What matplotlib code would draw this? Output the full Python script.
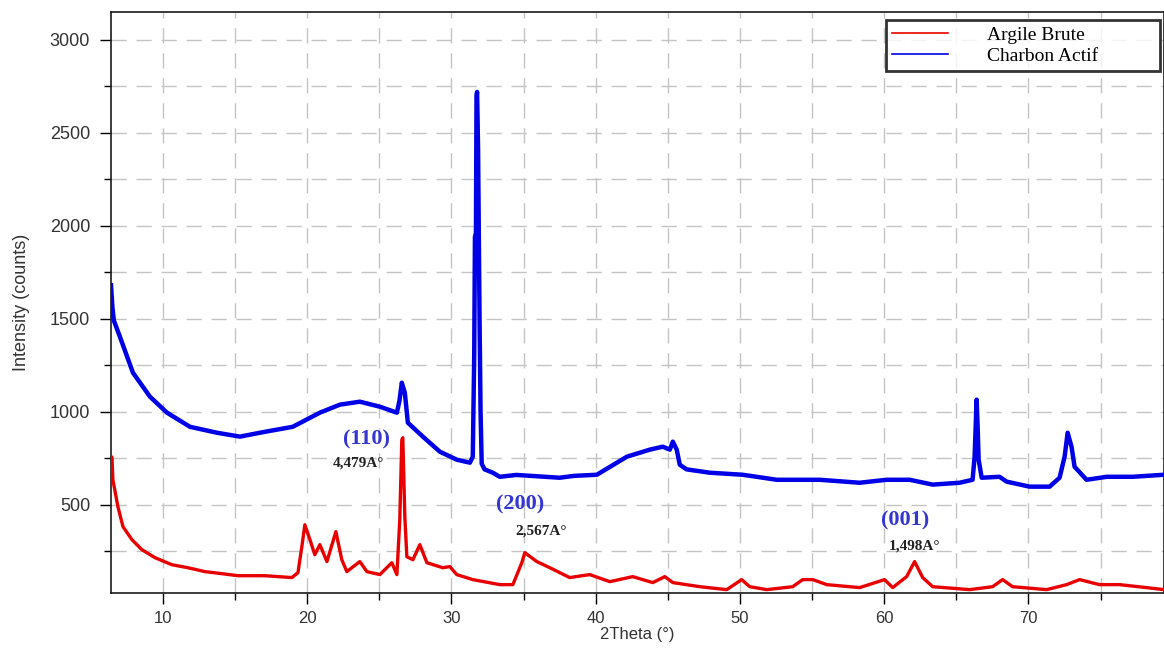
import matplotlib
matplotlib.use("Agg")
import matplotlib.pyplot as plt
from matplotlib.ticker import MultipleLocator

# Charbon Actif (blue)
charbon_x = [6.40, 6.50, 6.60, 7.02, 7.92, 9.10, 10.28, 11.87, 13.74, 15.34,
             16.72, 19.0, 20.88, 22.27, 23.65, 25.04, 26.22, 26.40, 26.56, 26.77,
             26.98, 28.02, 29.2, 30.37, 31.28, 31.48, 31.58, 31.63, 31.70, 31.74,
             31.78, 31.85, 31.95, 32.02, 32.10, 32.30, 32.87, 33.35, 34.5, 35.5,
             37.5, 38.5, 40.08, 42.16, 43.75, 44.65, 45.14, 45.35, 45.62, 45.83,
             46.3, 47.91, 50.19, 52.55, 55.53, 58.3, 60.17, 61.77, 63.36, 65.23,
             66.13, 66.27, 66.41, 66.48, 66.55, 66.76, 68.0, 68.49, 70.08, 71.47,
             72.16, 72.51, 72.72, 72.99, 73.2, 74.03, 75.42, 77.22, 79.4]
charbon_y = [1680, 1560, 1490, 1403, 1210, 1081, 995, 919, 887, 866,
             887, 919, 995, 1038, 1054, 1027, 995, 1060, 1156, 1102,
             941, 866, 785, 742, 726, 758, 1300, 1940, 1960, 2700,
             2720, 2400, 1500, 1000, 720, 690, 672, 650, 660, 655,
             645, 655, 661, 758, 796, 812, 796, 839, 796, 715,
             690, 672, 661, 634, 634, 618, 634, 634, 608, 618,
             634, 758, 1065, 919, 742, 645, 650, 624, 597, 597,
             645, 758, 887, 812, 704, 634, 650, 650, 661]

# Argile Brute (red)
argile_x = [6.40, 6.47, 6.53, 6.88, 7.23, 7.85, 8.54, 9.45, 10.62, 11.73,
            12.91, 14.09, 15.2, 17.07, 18.94, 19.36, 19.63, 19.84, 20.19, 20.53,
            20.88, 21.37, 21.99, 22.4, 22.75, 23.65, 24.14, 25.04, 25.87, 26.22,
            26.42, 26.56, 26.63, 26.77, 26.91, 27.33, 27.81, 28.3, 29.4, 29.89,
            30.37, 31.48, 33.35, 34.26, 34.88, 35.09, 35.92, 36.82, 38.2, 39.59,
            40.98, 42.57, 43.96, 44.79, 45.35, 47.21, 49.09, 50.12, 50.68, 51.86,
            53.66, 54.35, 55.05, 56.02, 58.3, 60.03, 60.59, 61.56, 62.11, 62.67,
            63.36, 65.93, 67.52, 68.21, 68.9, 71.26, 72.65, 73.55, 74.93, 76.32,
            78.19, 79.4]
argile_y = [760, 753, 634, 489, 382, 312, 258, 215, 177, 161,
            140, 129, 118, 118, 108, 134, 274, 392, 312, 231,
            285, 194, 355, 204, 140, 194, 140, 124, 188, 124,
            419, 849, 860, 435, 220, 204, 285, 188, 161, 167,
            124, 97, 70, 70, 188, 242, 194, 161, 108, 124,
            86, 113, 81, 113, 81, 59, 43, 97, 59, 43,
            59, 97, 97, 70, 54, 97, 54, 113, 194, 108,
            59, 43, 59, 97, 59, 43, 70, 97, 70, 70,
            54, 43]

# peak labels: hkl text, d-spacing text and where each sits
peak_hkl = ["(110)", "(200)", "(001)"]
peak_d = ["4,479A°", "2,567A°", "1,498A°"]
peak_hkl_pos = [(24.14, 849), (34.74, 500), (61.42, 414)]
peak_d_pos = [(23.52, 726), (36.2, 360), (62.11, 280)]

fig = plt.figure(figsize=(11.64, 6.48), dpi=100)
ax = fig.add_axes([111 / 1164, 1 - 593 / 648, 1 - 111 / 1164, (593 - 12) / 648])

ax.plot(argile_x, argile_y, color="#e80000", lw=2.4, label="Argile Brute", zorder=3)
ax.plot(charbon_x, charbon_y, color="#0000e6", lw=3.2, label="Charbon Actif", zorder=3)

ax.set_xlim(6.4, 79.4)
ax.set_ylim(25, 3150)
ax.xaxis.set_major_locator(MultipleLocator(10))
ax.xaxis.set_minor_locator(MultipleLocator(5))
ax.yaxis.set_major_locator(MultipleLocator(500))
ax.yaxis.set_minor_locator(MultipleLocator(250))
ax.set_yticks([500, 1000, 1500, 2000, 2500, 3000])

ax.grid(True, which="both", color="#c4c4c4", lw=1.0, ls=(0, (11, 7)), zorder=0)
ax.tick_params(which="major", direction="out", length=8, width=1, labelsize=13,
               labelcolor="#333333", top=False, right=False)
ax.tick_params(axis="y", which="major", pad=7)
ax.tick_params(axis="x", which="major", pad=5, labelsize=12)
ax.tick_params(which="minor", direction="out", length=5, width=1, top=False, right=False)
for s in ax.spines.values():
    s.set_color("#1a1a1a")
    s.set_linewidth(1.2)

for lab in ax.get_xticklabels() + ax.get_yticklabels():
    lab.set_family("Liberation Sans")

ax.set_xlabel("2Theta (°)", fontsize=12, family="Liberation Sans", color="#333333", labelpad=1)
ax.set_ylabel("Intensity (counts)", fontsize=13, family="Liberation Sans", color="#333333", labelpad=14)

for t, (x, y) in zip(peak_hkl, peak_hkl_pos):
    ax.text(x, y, t, ha="center", va="center", color="#3535d0", fontsize=16,
            fontweight="bold", family="Liberation Serif", zorder=4)
for t, (x, y) in zip(peak_d, peak_d_pos):
    ax.text(x, y, t, ha="center", va="center", color="#222222", fontsize=11,
            fontweight="bold", family="Liberation Serif", zorder=4)

leg = ax.legend(loc="upper left", bbox_to_anchor=(775 / 1053, 0.846, 274 / 1053, 0.14),
                mode="expand", prop={"family": "Liberation Serif", "size": 14},
                handlelength=2.9, handletextpad=2.0, borderpad=0.3, labelspacing=0.2,
                borderaxespad=0, frameon=True, fancybox=False)
leg.get_frame().set_edgecolor("black")
leg.get_frame().set_linewidth(2)
for line in leg.get_lines():
    line.set_linewidth(1.2)

fig.savefig("out.png", dpi=100)
